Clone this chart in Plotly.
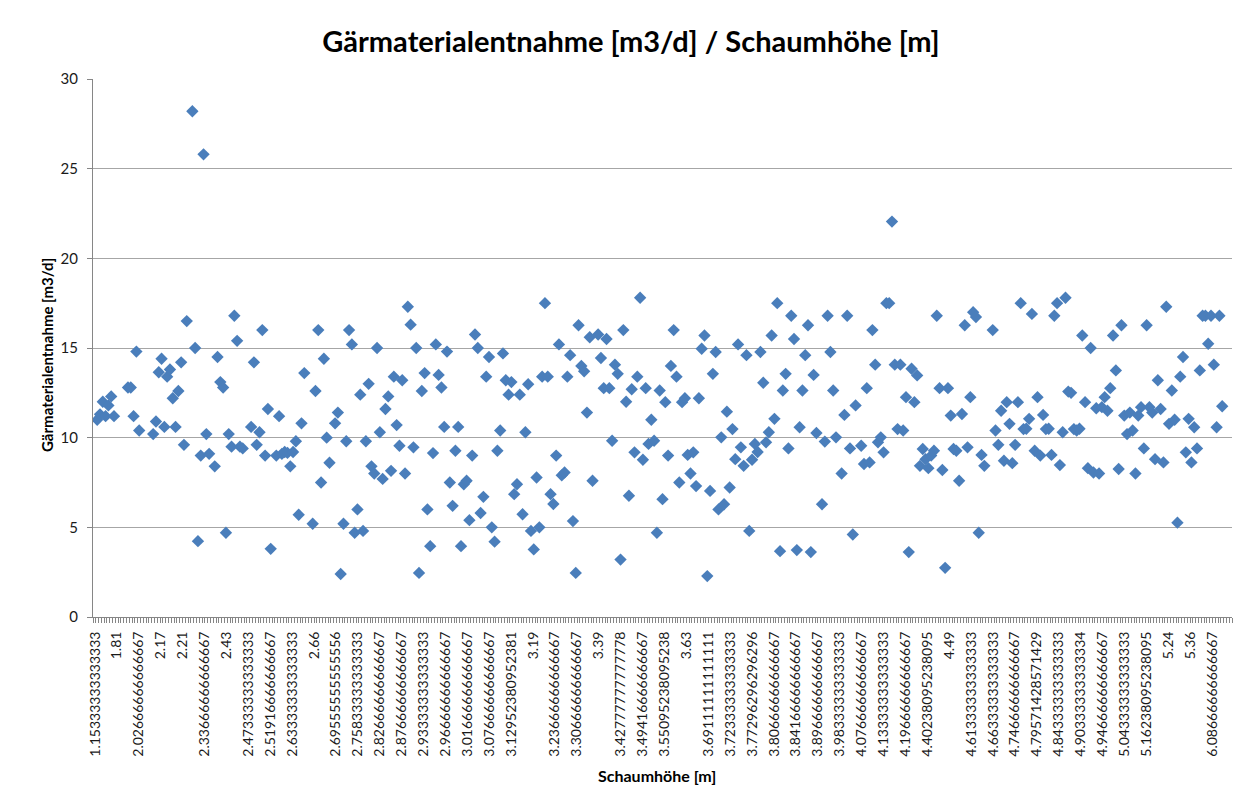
import plotly.graph_objects as go

# Gärmaterialentnahme [m3/d] per category (sorted Schaumhöhe); None = empty category
seg1 = [None, 11.0, 11.3, 12.0, 11.2, 11.8, 12.3, 11.2, None, None, None, None, 12.8, 12.8, 11.2,
        14.8, 10.4, None, None, None, None, 10.2, 10.9, 13.65, 14.4, 10.6, 13.4, 13.8, 12.2, 10.6,
        12.6, 14.2, 9.6, 16.5, None, 28.2, 15.0, 4.23, 9.0, 25.8, 10.2, 9.1, None, 8.4, 14.5,
        13.1, 12.8, 4.7, 10.2, 9.5, 16.8, 15.4, 9.5]
seg2 = [9.4, None, None, 10.6, 14.2, 9.6, 10.3, 16.0, 9.0, 11.6, 3.8, None, 9.0, 11.2, 9.1, 9.2,
        9.15, 8.4, 9.2, 9.8, 5.7, 10.8, 13.6, None, None, 5.2, 12.6, 16.0, 7.5, 14.4, 10.0, 8.6,
        None, 10.8, 11.4, 2.4, 5.2, 9.8, 16.0, 15.2, 4.7, 6.0, 12.4, 4.8, 9.8, 13.0, 8.4, 8.0,
        15.0, 10.3]
seg3 = [7.7, 11.6, 12.3, 8.15, 13.4, 10.7, 9.55, 13.2, 8.0, 17.3, 16.3, 9.46, 15.0, 2.46,
        12.6, 13.6, 6.0, 3.95, 9.14, 15.2, 13.5, 12.8, 10.6, 14.8, 7.5, 6.2, 9.27, 10.6,
        3.95, 7.4, 7.6, 5.4, 9.0, 15.75, 15.0, 5.8, 6.7, 13.4, 14.5, 5.0, 4.2, 9.27, 10.4, 14.7,
        13.2, 12.4, 13.1, 6.85, 7.4, 12.4, 5.73, 10.3]
seg4 = [12.98, 4.8, 3.77, 7.78, 5.0, 13.4, 17.5, 13.4, 6.85, 6.3, 9.0, 15.2, 7.9, 8.06, 13.4,
        14.6, 5.35, 2.46, 16.27, 14.0, 13.7, 11.4, 15.6, 7.6, None, 15.75, 14.44, 12.76, 15.5,
        12.76, 9.83, 14.07, 13.56, 3.2, 16.0, 12.0, 6.76, 12.7, 9.18, 13.4, 17.8, 8.77, 12.76,
        9.65, 11.0, 9.83, 4.7, 12.63, 6.57, 11.98, 9.0, 14.0]
seg5 = [16.0, 13.4, 7.5, 11.98, 12.2, 9.04, 8.0, 9.18, 7.3, 12.2, 14.96, 15.7, 2.28, 7.03,
        13.56, 14.78, 6.0, 10.02, 6.29, 11.45, 7.22, 10.48, 8.8, 15.2, 9.46, 8.43, 14.6, 4.8, 8.77,
        9.65, 9.2, 14.78, 13.06, 9.74, 10.3, 15.7, 11.05, 17.5, 3.67, 12.63, 13.56, 9.4, 16.8,
        15.5, 3.73, 10.58, 12.63, 14.6, 16.27, 3.62, 13.5]
seg6 = [10.26, None, 6.29, 9.78, 16.8, 14.78, 12.63, 10.02, None, 8.0, 11.27, 16.8, 9.4,
        4.6, 11.8, None, 9.55, 8.53, 12.76, 8.62, 16.0, 14.07, 9.74, 10.02, 9.18, 17.5, 17.5,
        22.05, 14.07, 10.48, 14.07, 10.4, 12.26, 3.62, 13.84, 11.98, 13.47, 8.43, 9.37, 8.8, 8.3,
        9.0, 9.27, 16.8, 12.76, 8.2, 2.74, 12.76, 11.23, 9.37]
seg7 = [9.27, 7.6, 11.32, 16.27, 9.46, 12.26, 17.0, 16.73, 4.7, 9.04, 8.43, None, None, 16.0,
        10.4, 9.6, 11.5, 8.71, 11.98, 10.77, 8.58, 9.6, 11.98, 17.5, 10.48, 10.5, 11.05, 16.9,
        9.27, 12.26, 9.0, 11.27, 10.48, 10.5, 9.04, 16.8, 17.5, 8.47, 10.3, 17.8, 12.57, 12.5,
        10.48, 10.4, 10.5, 15.7, 11.98, 8.3, 15.0, 8.06, 11.64]
seg8 = [8.0, 11.7, 12.26, 11.5, 12.76, 15.7, 13.75, 8.25, 16.27, 11.23, 10.2, 11.4, 10.4, 8.0,
        11.23, 11.7, 9.4, 16.27, 11.7, 11.4, 8.8, 13.2, 11.6, 8.62, 17.3, 10.77, 12.63, 11.0,
        5.26, 13.4, 14.5, 9.18, 11.05, 8.62, 10.58, 9.4, 13.75, 16.8, 16.8, 15.24, 16.8, 14.07,
        10.58, 16.8, 11.75, None, None, None]

values = seg1 + seg2 + seg3 + seg4 + seg5 + seg6 + seg7 + seg8

tick_labels = ["1.15333333333333", "1.81", "2.02666666666667", "2.17", "2.21",
               "2.33666666666667", "2.43", "2.47333333333333", "2.51916666666667",
               "2.63333333333333", "2.66", "2.69555555555556", "2.75833333333333",
               "2.82666666666667", "2.87666666666667", "2.93333333333333", "2.96666666666667",
               "3.01666666666667", "3.07666666666667", "3.12952380952381", "3.19",
               "3.23666666666667", "3.30666666666667", "3.39", "3.42777777777778",
               "3.49416666666667", "3.55095238095238", "3.63", "3.69111111111111",
               "3.72333333333333", "3.77296296296296", "3.80666666666667", "3.84166666666667",
               "3.89666666666667", "3.98333333333333", "4.07666666666667", "4.13333333333333",
               "4.19666666666667", "4.40238095238095", "4.49", "4.61333333333333",
               "4.66333333333333", "4.74666666666667", "4.79571428571429", "4.84333333333333",
               "4.90333333333334", "4.94666666666667", "5.04333333333333", "5.16238095238095",
               "5.24", "5.36", "6.08666666666667"]

n = len(values)
xs = list(range(n))
step = n / len(tick_labels)
tickvals = [k * step + 0.2 for k in range(len(tick_labels))]

FONT = "Lato"
fig = go.Figure()
fig.add_trace(go.Scatter(
    x=xs, y=values, mode="markers",
    marker=dict(symbol="diamond", size=9.5, color="#4a7ebb", line=dict(width=0)),
    showlegend=False, hoverinfo="skip"))

fig.update_layout(
    width=1247, height=802,
    margin=dict(l=93, r=15, t=79, b=185),
    paper_bgcolor="white", plot_bgcolor="white",
    font=dict(family=FONT, color="#000000"),
    title=dict(text="<b>Gärmaterialentnahme [m3/d] / Schaumhöhe [m]</b>",
               x=631 / 1247, xanchor="center", xref="container", y=1 - 42 / 802,
               yref="container", yanchor="middle",
               font=dict(family=FONT, size=29, color="#000000")),
    xaxis=dict(range=[-0.5, n - 0.5], tickmode="array", tickvals=tickvals,
               ticktext=tick_labels, tickangle=-90, showgrid=False, zeroline=False,
               showline=True, linecolor="#868686", linewidth=1, ticks="",
               ticklabelstandoff=8,
               tickfont=dict(family=FONT, size=14, color="#1a1a1a"),
               minor=dict(tickmode="linear", tick0=-0.5, dtick=1, ticks="outside",
                          ticklen=5, tickcolor="#868686", tickwidth=1, showgrid=False)),
    yaxis=dict(range=[0, 30], tickmode="linear", tick0=0, dtick=5, showgrid=True,
               gridcolor="#a6a6a6", gridwidth=1, zeroline=False, showline=True,
               linecolor="#868686", linewidth=1, ticks="outside", ticklen=5,
               ticklabelstandoff=6,
               tickcolor="#868686", tickfont=dict(family=FONT, size=15, color="#1a1a1a")),
    annotations=[
        dict(text="<b>Gärmaterialentnahme [m3/d]</b>", xref="paper", yref="paper",
             x=(47 - 93) / 1139, y=(617 - 355) / 538, textangle=-90, showarrow=False,
             xanchor="center", yanchor="middle", font=dict(family=FONT, size=15)),
        dict(text="<b>Schaumhöhe [m]</b>", xref="paper", yref="paper",
             x=(657 - 93) / 1139, y=(617 - 775) / 538, showarrow=False,
             xanchor="center", yanchor="middle", font=dict(family=FONT, size=16)),
    ],
)

fig.write_html("out.html", config={"displayModeBar": False},
               post_script="document.body.style.margin='0';")
